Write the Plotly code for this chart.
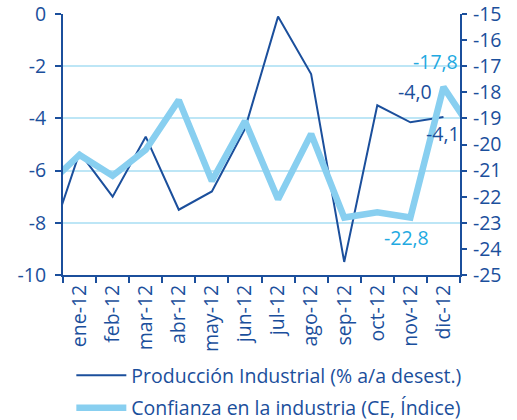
import plotly.graph_objects as go

months = ["dic-11", "ene-12", "feb-12", "mar-12", "abr-12", "may-12", "jun-12",
          "jul-12", "ago-12", "sep-12", "oct-12", "nov-12", "dic-12", "ene-13"]
produccion = [-9.1, -5.3, -7.0, -4.7, -7.5, -6.8, -4.4, -0.1, -2.3, -9.5, -3.5, -4.15, -3.95, None]
confianza = [-21.6, -20.4, -21.2, -20.2, -18.3, -21.4, -19.1, -22.1, -19.6, -22.8, -22.6, -22.8, -17.8, -19.7]

left_ticks = [0, -2, -4, -6, -8, -10]
left_labels = ["0", "-2", "-4", "-6", "-8", "-10"]
right_ticks = [-15, -16, -17, -18, -19, -20, -21, -22, -23, -24, -25]
right_labels = ["-15", "-16", "-17", "-18", "-19", "-20", "-21", "-22", "-23", "-24", "-25"]

DARK = "#1b4f9c"
LIGHT = "#88cff0"
CYAN = "#22a9e1"
GRID = "#bde6f6"
FONT = "Open Sans"
FS = 19.5

fig = go.Figure()
fig.add_trace(go.Scatter(x=months, y=produccion, mode="lines", name="Producción Industrial (% a/a desest.)",
                         line=dict(color=DARK, width=2), yaxis="y", legendgroup="a"))
fig.add_trace(go.Scatter(x=months, y=confianza, mode="lines", name="Confianza en la industria (CE, Índice)",
                         line=dict(color=LIGHT, width=6.5), yaxis="y2", legendgroup="b"))

fig.add_annotation(x="dic-12", y=-17.8, yref="y2", text="-17,8", showarrow=False,
                   xshift=-8, yshift=26, font=dict(color=CYAN, size=FS, family=FONT))
fig.add_annotation(x="nov-12", y=-22.8, yref="y2", text="-22,8", showarrow=False,
                   xshift=-4, yshift=-20, font=dict(color=CYAN, size=FS, family=FONT))
fig.add_annotation(x="dic-12", y=-3.95, yref="y", text="-4,0", showarrow=False,
                   xshift=-28, yshift=26, font=dict(color=DARK, size=FS, family=FONT))
fig.add_annotation(x="dic-12", y=-3.95, yref="y", text="-4,1", showarrow=False,
                   xshift=0, yshift=-16, font=dict(color=DARK, size=FS, family=FONT))

fig.update_layout(
    width=517, height=420,
    margin=dict(l=63, r=57, t=14, b=145, autoexpand=False),
    paper_bgcolor="white", plot_bgcolor="white",
    font=dict(family=FONT, size=FS, color=DARK),
    showlegend=True,
    legend=dict(orientation="v", x=0.021, xanchor="left", y=-0.311, yanchor="top",
                font=dict(size=FS, color=DARK, family=FONT), itemwidth=50,
                tracegroupgap=4, bgcolor="rgba(0,0,0,0)"),
    xaxis=dict(type="category", range=[0.5, 12.5], tickson="boundaries", ticks="outside",
               ticklen=6, tickwidth=2, tickcolor=DARK, tickangle=-90, showline=True,
               linecolor=DARK, linewidth=2, showgrid=False, zeroline=False,
               tickfont=dict(size=FS, color=DARK, family=FONT)),
    yaxis=dict(range=[-10, 0], tickvals=left_ticks, ticktext=left_labels, ticks="outside",
               ticklen=6, tickwidth=2, tickcolor=DARK, showline=True, linecolor=DARK, linewidth=2,
               showgrid=True, gridcolor=GRID, gridwidth=2, zeroline=False,
               ticklabeloverflow="allow", ticklabelstandoff=5,
               tickfont=dict(size=FS, color=DARK, family=FONT)),
    yaxis2=dict(range=[-25, -15], tickvals=right_ticks, ticktext=right_labels, overlaying="y",
                side="right", ticks="outside", ticklen=5, tickwidth=2, tickcolor=DARK,
                showline=True, linecolor=DARK, linewidth=2, showgrid=False, zeroline=False,
                ticklabeloverflow="allow", ticklabelstandoff=2,
                tickfont=dict(size=FS, color=DARK, family=FONT)),
)

fig.write_html("out.html", config={"displayModeBar": False},
               post_script="document.body.style.margin='0';")
